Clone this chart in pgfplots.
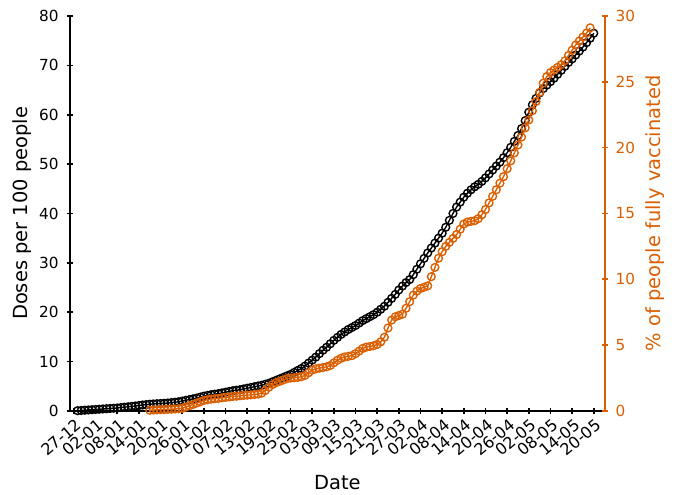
\documentclass[border=0pt]{standalone}
\usepackage{pgfplots}
\pgfplotsset{compat=1.18}
\usepackage{fontspec}
\setmainfont{DejaVu Sans}
\definecolor{vorange}{HTML}{D95F02}
\begin{document}
\begin{tikzpicture}
\pgfplotsset{
  common/.style={
    at={(0,0)}, anchor=south west,
    scale only axis, width=385.2pt, height=284.4pt,
    xmin=-1.1, xmax=147.1, ymin=0,
    /pgf/number format/assume math mode=true,
    tick align=outside, major tick length=4.3pt,
    ticklabel style={font=\fontsize{11}{13}\selectfont},
  },
  nolinearrows/.style={
    axis line style={-, line width=1.3pt},
    every outer x axis line/.append style={-},
    every outer y axis line/.append style={-},
    every inner x axis line/.append style={-},
    every inner y axis line/.append style={-},
  }
}
\begin{axis}[common,
  ymax=80,
  axis x line=bottom, axis y line=left,
  nolinearrows,
  every tick/.style={line width=1.2pt, black},
  xtick={0,6,...,144},
  xticklabels={27-12,02-01,08-01,14-01,20-01,26-01,01-02,07-02,13-02,19-02,25-02,03-03,09-03,15-03,21-03,27-03,02-04,08-04,14-04,20-04,26-04,02-05,08-05,14-05,20-05},
  xticklabel style={rotate=40, anchor=north east, inner sep=1pt, yshift=-1.5pt, font=\fontsize{11.5}{13}\selectfont},
  yticklabel style={xshift=-2.5pt, font=\fontsize{11}{13}\selectfont},
  ytick={0,10,...,80},
  xlabel={Date},
  ylabel={Doses per 100 people},
  every axis x label/.style={at={(axis description cs:0.5,0)}, yshift=-51.8pt, anchor=center, font=\fontsize{14}{16}\selectfont},
  every axis y label/.style={at={(axis description cs:0,0.5)}, xshift=-34.6pt, rotate=90, anchor=center, font=\fontsize{14}{16}\selectfont},
]
\addplot[black, line width=1pt, mark=o, mark size=2.8pt, mark options={solid}] coordinates {
(1,0.05)(2,0.1)(3,0.15)(4,0.2)(5,0.25)(6,0.3)(7,0.35)(8,0.4)(9,0.45)(10,0.5)(11,0.55)(12,0.6)(13,0.68)(14,0.76)(15,0.84)(16,0.92)(17,1.0)(18,1.1)(19,1.2)(20,1.28)(21,1.36)(22,1.42)(23,1.47)(24,1.5)(25,1.55)(26,1.6)(27,1.68)(28,1.76)(29,1.86)(30,2.0)(31,2.15)(32,2.3)(33,2.45)(34,2.6)(35,2.8)(36,3.0)(37,3.15)(38,3.3)(39,3.4)(40,3.5)(41,3.65)(42,3.8)(43,3.95)(44,4.1)(45,4.2)(46,4.3)(47,4.45)(48,4.6)(49,4.75)(50,4.9)(51,5.05)(52,5.2)(53,5.4)(54,5.6)(55,5.9)(56,6.2)(57,6.5)(58,6.8)(59,7.1)(60,7.4)(61,7.8)(62,8.2)(63,8.6)(64,9.1)(65,9.7)(66,10.3)(67,10.9)(68,11.6)(69,12.3)(70,12.9)(71,13.6)(72,14.3)(73,14.9)(74,15.5)(75,16.0)(76,16.5)(77,16.9)(78,17.3)(79,17.8)(80,18.3)(81,18.7)(82,19.1)(83,19.5)(84,20.0)(85,20.6)(86,21.2)(87,22.0)(88,22.8)(89,23.6)(90,24.5)(91,25.3)(92,26.0)(93,26.6)(94,27.6)(95,28.7)(96,29.8)(97,30.9)(98,32.0)(99,33.0)(100,34.0)(101,35.0)(102,36.0)(103,37.2)(104,38.6)(105,40.0)(106,41.3)(107,42.3)(108,43.3)(109,44.1)(110,44.8)(111,45.4)(112,45.9)(113,46.5)(114,47.2)(115,48.0)(116,48.8)(117,49.6)(118,50.4)(119,51.3)(120,52.3)(121,53.4)(122,54.6)(123,55.8)(124,57.2)(125,58.8)(126,60.5)(127,62.0)(128,63.3)(129,64.4)(130,65.3)(131,66.0)(132,66.7)(133,67.4)(134,68.2)(135,69.0)(136,69.8)(137,70.6)(138,71.3)(139,72.1)(140,72.9)(141,73.7)(142,74.6)(143,75.5)(144,76.5)
};
\end{axis}
\begin{axis}[common,
  ymax=30,
  axis x line=none, axis y line=right,
  nolinearrows,
  axis line style={vorange},
  every tick/.style={line width=1.2pt, vorange},
  yticklabel style={text=vorange, xshift=2pt, font=\fontsize{11}{13}\selectfont},
  ytick={0,5,...,30},
  ylabel={\% of people fully vaccinated},
  every axis y label/.style={at={(axis description cs:1,0.5)}, xshift=36pt, rotate=90, anchor=center, text=vorange, font=\fontsize{14}{16}\selectfont},
]
\addplot[vorange, line width=1pt, mark=o, mark size=2.8pt, mark options={solid}] coordinates {
(21,0.05)(22,0.07)(23,0.08)(24,0.1)(25,0.1)(26,0.12)(27,0.13)(28,0.15)(29,0.17)(30,0.2)(31,0.3)(32,0.4)(33,0.5)(34,0.6)(35,0.7)(36,0.8)(37,0.85)(38,0.9)(39,0.93)(40,0.95)(41,1.0)(42,1.03)(43,1.06)(44,1.1)(45,1.12)(46,1.15)(47,1.18)(48,1.2)(49,1.22)(50,1.25)(51,1.28)(52,1.35)(53,1.55)(54,1.8)(55,2.0)(56,2.15)(57,2.25)(58,2.35)(59,2.45)(60,2.5)(61,2.52)(62,2.55)(63,2.6)(64,2.7)(65,2.9)(66,3.1)(67,3.2)(68,3.25)(69,3.3)(70,3.35)(71,3.45)(72,3.65)(73,3.85)(74,4.0)(75,4.1)(76,4.15)(77,4.2)(78,4.35)(79,4.55)(80,4.75)(81,4.85)(82,4.9)(83,4.95)(84,5.05)(85,5.25)(86,5.6)(87,6.3)(88,6.9)(89,7.15)(90,7.25)(91,7.35)(92,7.8)(93,8.3)(94,8.8)(95,9.1)(96,9.3)(97,9.4)(98,9.5)(99,10.2)(100,10.9)(101,11.6)(102,12.1)(103,12.5)(104,12.8)(105,13.1)(106,13.4)(107,13.8)(108,14.2)(109,14.35)(110,14.4)(111,14.45)(112,14.6)(113,14.9)(114,15.3)(115,15.8)(116,16.3)(117,16.8)(118,17.3)(119,17.8)(120,18.4)(121,19.0)(122,19.6)(123,20.2)(124,20.8)(125,21.5)(126,22.1)(127,22.8)(128,23.5)(129,24.2)(130,24.9)(131,25.4)(132,25.7)(133,25.9)(134,26.1)(135,26.3)(136,26.6)(137,27.0)(138,27.4)(139,27.8)(140,28.1)(141,28.4)(142,28.7)(143,29.1)
};
\end{axis}
\pgfresetboundingbox
\path (-50.4pt,-60.5pt) rectangle (437.8pt,295.9pt);
\end{tikzpicture}
\end{document}
